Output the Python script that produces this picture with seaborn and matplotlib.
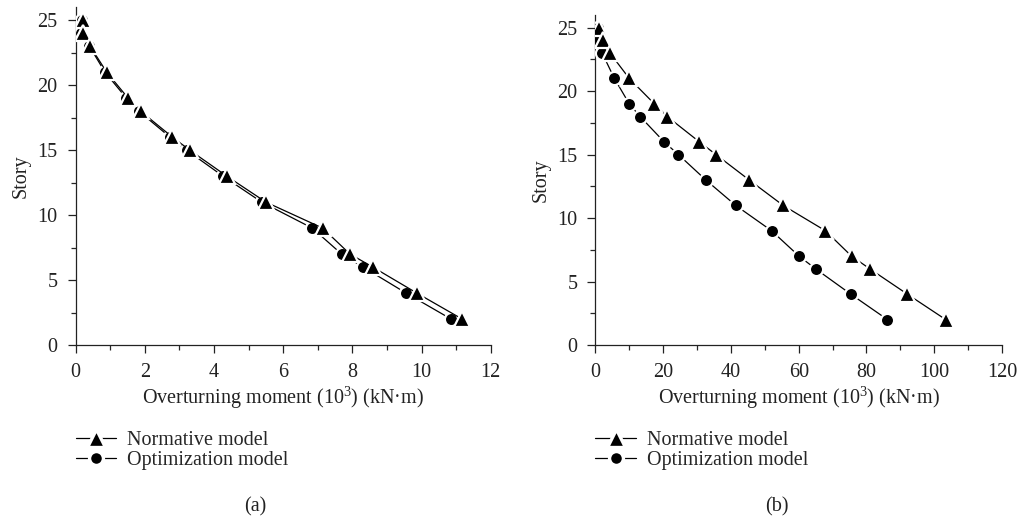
import numpy as np
import pandas as pd
import matplotlib
matplotlib.use('Agg')
import matplotlib.pyplot as plt
import seaborn as sns
from matplotlib.ticker import MultipleLocator

##data: story vs overturning moment (10^3 kN.m)
stories = [25, 24, 23, 21, 19, 18, 16, 15, 13, 11, 9, 7, 6, 4, 2]
a_normative = [0.20, 0.20, 0.42, 0.90, 1.52, 1.88, 2.80, 3.30, 4.37, 5.50, 7.14, 7.93, 8.59, 9.86, 11.17]
a_optimization = [0.18, 0.17, 0.40, 0.85, 1.47, 1.83, 2.73, 3.21, 4.26, 5.38, 6.84, 7.69, 8.31, 9.55, 10.85]
b_normative = [1.2, 2.3, 4.3, 10.0, 17.4, 21.2, 30.7, 35.6, 45.4, 55.4, 67.9, 75.6, 81.0, 92.1, 103.4]
b_optimization = [0.9, 0.9, 2.0, 5.6, 10.0, 13.2, 20.3, 24.5, 32.6, 41.4, 52.0, 60.1, 65.0, 75.4, 86.2]
labels = ['Normative model', 'Optimization model']
panel_tags = ['(a)', '(b)']

sns.set_style('ticks')
plt.rcParams['font.family'] = ['Liberation Serif', 'DejaVu Serif']
plt.rcParams['mathtext.fontset'] = 'custom'
plt.rcParams['mathtext.rm'] = 'Liberation Serif'
plt.rcParams['mathtext.default'] = 'regular'

FS = 14.5
W, H = 1019, 517
fig = plt.figure(figsize=(W/100, H/100), dpi=100)
ax_a = fig.add_axes([75.6/W, 1-345/H, (490.8-75.6)/W, (345-7.3)/H])
ax_b = fig.add_axes([595.4/W, 1-345/H, (1002-595.4)/W, (345-15)/H])

def draw_panel(ax, norm, opt, xmax, xmajor, xminor, left_px, tag, tag_x):
    sns.lineplot(x=opt, y=stories, marker='o', markersize=9.5, color='black',
                 markeredgecolor='white', markeredgewidth=1.6, linewidth=0.9,
                 estimator=None, sort=False, ax=ax, label=labels[1], zorder=3)
    sns.lineplot(x=norm, y=stories, marker='^', markersize=12, color='black',
                 markeredgecolor='white', markeredgewidth=1.6, linewidth=0.9,
                 estimator=None, sort=False, ax=ax, label=labels[0], zorder=4)
    ax.set_xlim(0, xmax)
    ax.set_ylim(0, 26)
    ax.xaxis.set_major_locator(MultipleLocator(xmajor))
    ax.xaxis.set_minor_locator(MultipleLocator(xminor))
    ax.yaxis.set_major_locator(MultipleLocator(5))
    ax.yaxis.set_minor_locator(MultipleLocator(2.5))
    ax.tick_params(which='major', direction='out', length=6, width=0.9, labelsize=FS, pad=7, colors='#222222')
    ax.tick_params(which='minor', direction='out', length=3.5, width=0.9)
    for s in ['left', 'bottom']:
        ax.spines[s].set_linewidth(0.9)
        ax.spines[s].set_color('#222222')
    sns.despine(ax=ax)
    ax.set_xlabel('Overturning moment (10$^3$) (kN·m)', fontsize=FS, labelpad=2, color='#222222')
    ax.set_ylabel('Story', fontsize=FS, labelpad=5, color='#222222')
    h, l = ax.get_legend_handles_labels()
    order = [l.index(labels[0]), l.index(labels[1])]
    leg = ax.legend([h[i] for i in order], [l[i] for i in order], loc='upper left',
                    bbox_to_anchor=(left_px/W, 1-431/H), bbox_transform=fig.transFigure,
                    frameon=False, fontsize=FS, handlelength=2.0, handletextpad=0.55,
                    labelspacing=0.05, borderpad=0, borderaxespad=0)
    for lh, ms in zip(leg.legend_handles, [13, 10]):
        lh.set_markersize(ms)
        lh.set_markeredgewidth(2.4)
    fig.text(tag_x/W, 1-506.7/H, tag, ha='center', va='center', fontsize=FS, color='#222222')

draw_panel(ax_a, a_normative, a_optimization, 12, 2, 1, 75.6, panel_tags[0], 255)
draw_panel(ax_b, b_normative, b_optimization, 120, 20, 10, 595.4, panel_tags[1], 776.7)

fig.savefig('out.png', dpi=100)
